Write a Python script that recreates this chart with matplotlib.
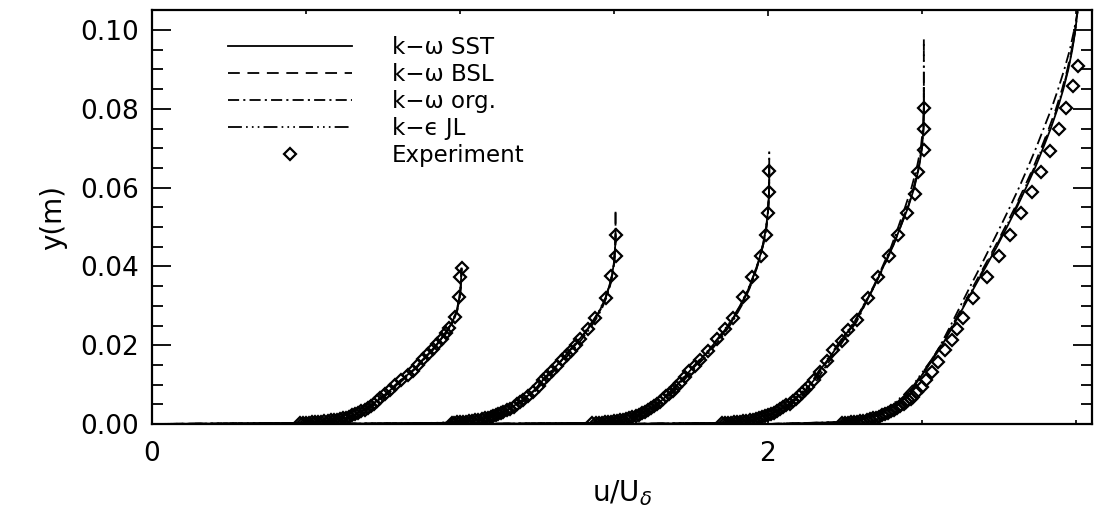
import matplotlib
matplotlib.use("Agg")
import matplotlib.pyplot as plt
from matplotlib.ticker import MultipleLocator, FixedLocator, FormatStrFormatter
from matplotlib.lines import Line2D

plt.rcParams['font.family'] = ['DejaVu Sans']
plt.rcParams['mathtext.fontset'] = 'dejavusans'
plt.rcParams['lines.scale_dashes'] = False

# velocity profiles, each station shifted by 0.5 in u/U_delta
# station 1
y_p1 = [0.0, 0.0003, 0.0008, 0.0015, 0.0025, 0.004, 0.006, 0.0085, 0.011, 0.014, 0.017, 0.020, 0.023, 0.026, 0.029, 0.032, 0.035, 0.0375, 0.0395]
sst_p1 = [0.0, 0.50, 0.57, 0.625, 0.66, 0.698, 0.733, 0.772, 0.807, 0.852, 0.888, 0.922, 0.952, 0.976, 0.990, 0.998, 1.002, 1.004, 1.005]
bsl_p1 = [0.0, 0.50, 0.57, 0.627, 0.663, 0.701, 0.736, 0.775, 0.810, 0.855, 0.890, 0.924, 0.953, 0.977, 0.991, 0.999, 1.003, 1.004, 1.005]
org_p1 = [0.0, 0.52, 0.59, 0.635, 0.67, 0.706, 0.740, 0.778, 0.812, 0.856, 0.892, 0.926, 0.955, 0.978, 0.992, 0.999, 1.003, 1.004, 1.005]
jl_p1 = [0.0, 0.48, 0.56, 0.618, 0.655, 0.694, 0.730, 0.770, 0.805, 0.850, 0.887, 0.921, 0.951, 0.975, 0.990, 0.998, 1.002, 1.004, 1.005]
exp_u_p1 = [0.48, 0.49, 0.50, 0.51, 0.52, 0.53, 0.54, 0.55, 0.56, 0.57, 0.58, 0.59, 0.60, 0.61, 0.62, 0.63, 0.64, 0.65, 0.66, 0.67, 0.68, 0.69, 0.70, 0.71, 0.72, 0.73, 0.74, 0.757, 0.773, 0.79, 0.81, 0.83, 0.848, 0.865, 0.881, 0.897, 0.911, 0.925, 0.94, 0.953, 0.965, 0.984, 0.998, 1.0, 1.005]
exp_y_p1 = [0.0002, 0.0002, 0.0003, 0.0003, 0.0004, 0.0004, 0.0005, 0.0006, 0.0007, 0.0008, 0.0009, 0.0010, 0.0011, 0.0012, 0.0014, 0.0016, 0.0019, 0.0022, 0.0025, 0.0028, 0.0032, 0.0036, 0.0041, 0.0046, 0.0052, 0.0058, 0.0065, 0.0075, 0.0086, 0.0099, 0.0112, 0.0124, 0.0135, 0.0150, 0.0164, 0.0178, 0.0190, 0.0204, 0.0217, 0.0230, 0.0243, 0.0271, 0.0323, 0.0374, 0.0395]

# station 2
y_p2 = [0.0, 0.0003, 0.0008, 0.0015, 0.0025, 0.004, 0.006, 0.0085, 0.011, 0.014, 0.017, 0.020, 0.023, 0.026, 0.029, 0.032, 0.035, 0.038, 0.041, 0.044, 0.047, 0.049]
sst_p2 = [0.5, 0.95, 1.04, 1.085, 1.12, 1.162, 1.203, 1.240, 1.268, 1.305, 1.338, 1.372, 1.403, 1.432, 1.455, 1.472, 1.485, 1.494, 1.500, 1.503, 1.505, 1.505]
bsl_p2 = [0.5, 0.95, 1.04, 1.087, 1.123, 1.165, 1.205, 1.242, 1.270, 1.307, 1.340, 1.374, 1.405, 1.433, 1.456, 1.473, 1.486, 1.495, 1.500, 1.503, 1.505, 1.505]
org_p2 = [0.5, 0.97, 1.05, 1.095, 1.13, 1.170, 1.210, 1.246, 1.275, 1.312, 1.346, 1.380, 1.410, 1.437, 1.459, 1.475, 1.487, 1.496, 1.501, 1.504, 1.505, 1.505]
jl_p2 = [0.5, 0.93, 1.03, 1.078, 1.115, 1.158, 1.200, 1.238, 1.266, 1.303, 1.336, 1.370, 1.401, 1.430, 1.454, 1.471, 1.485, 1.494, 1.500, 1.503, 1.505, 1.505]
exp_u_p2 = [0.973, 0.982, 0.99, 1.00, 1.01, 1.02, 1.03, 1.04, 1.05, 1.06, 1.07, 1.08, 1.09, 1.10, 1.108, 1.117, 1.125, 1.133, 1.14, 1.151, 1.162, 1.174, 1.185, 1.195, 1.205, 1.222, 1.238, 1.255, 1.270, 1.284, 1.298, 1.314, 1.330, 1.346, 1.362, 1.376, 1.390, 1.416, 1.438, 1.474, 1.489, 1.505, 1.505]
exp_y_p2 = [0.0003, 0.0003, 0.0004, 0.0004, 0.0005, 0.0006, 0.0007, 0.0008, 0.0009, 0.0010, 0.0012, 0.0014, 0.0016, 0.0018, 0.0021, 0.0023, 0.0026, 0.0028, 0.0031, 0.0035, 0.0039, 0.0044, 0.0050, 0.0055, 0.0061, 0.0071, 0.0082, 0.0097, 0.0112, 0.0123, 0.0135, 0.0148, 0.0162, 0.0174, 0.0186, 0.0200, 0.0215, 0.0240, 0.0268, 0.0321, 0.0376, 0.0427, 0.0481]

# station 3
y_p3 = [0.0, 0.0003, 0.0008, 0.0015, 0.0025, 0.004, 0.006, 0.0085, 0.011, 0.014, 0.018, 0.022, 0.026, 0.030, 0.034, 0.038, 0.042, 0.046, 0.050, 0.054, 0.058, 0.062, 0.065]
sst_p3 = [1.0, 1.45, 1.51, 1.55, 1.585, 1.620, 1.655, 1.690, 1.718, 1.752, 1.800, 1.842, 1.880, 1.910, 1.935, 1.955, 1.972, 1.985, 1.994, 2.000, 2.003, 2.004, 2.004]
bsl_p3 = [1.0, 1.45, 1.51, 1.553, 1.588, 1.623, 1.658, 1.693, 1.721, 1.755, 1.803, 1.845, 1.882, 1.912, 1.937, 1.957, 1.973, 1.986, 1.995, 2.000, 2.003, 2.004, 2.004]
org_p3 = [1.0, 1.47, 1.53, 1.563, 1.596, 1.630, 1.664, 1.698, 1.726, 1.760, 1.808, 1.849, 1.885, 1.914, 1.938, 1.957, 1.973, 1.986, 1.995, 2.000, 2.003, 2.004, 2.004]
jl_p3 = [1.0, 1.43, 1.50, 1.545, 1.580, 1.616, 1.651, 1.686, 1.715, 1.750, 1.798, 1.840, 1.878, 1.909, 1.934, 1.955, 1.972, 1.985, 1.994, 2.000, 2.003, 2.004, 2.004]
exp_u_p3 = [1.43, 1.44, 1.45, 1.46, 1.47, 1.48, 1.49, 1.50, 1.51, 1.52, 1.53, 1.54, 1.55, 1.56, 1.57, 1.58, 1.59, 1.60, 1.61, 1.62, 1.63, 1.64, 1.65, 1.66, 1.67, 1.68, 1.69, 1.70, 1.714, 1.73, 1.745, 1.762, 1.78, 1.805, 1.835, 1.86, 1.885, 1.92, 1.947, 1.977, 1.995, 2.001, 2.004, 2.004]
exp_y_p3 = [0.0002, 0.0002, 0.0003, 0.0003, 0.0004, 0.0005, 0.0006, 0.0007, 0.0008, 0.0009, 0.0011, 0.0013, 0.0015, 0.0017, 0.0020, 0.0023, 0.0027, 0.0031, 0.0035, 0.0040, 0.0045, 0.0051, 0.0057, 0.0063, 0.0070, 0.0077, 0.0085, 0.0094, 0.0105, 0.0120, 0.0135, 0.0148, 0.0162, 0.0186, 0.0215, 0.0240, 0.0268, 0.0322, 0.0374, 0.0426, 0.0480, 0.0535, 0.0588, 0.0643]

# station 4
y_p4 = [0.0, 0.0003, 0.0008, 0.0015, 0.0025, 0.004, 0.006, 0.0085, 0.011, 0.014, 0.018, 0.022, 0.026, 0.030, 0.035, 0.040, 0.045, 0.050, 0.055, 0.060, 0.065, 0.070, 0.075, 0.080, 0.0853]
sst_p4 = [1.5, 1.87, 1.93, 1.97, 2.005, 2.045, 2.085, 2.120, 2.148, 2.172, 2.210, 2.245, 2.283, 2.310, 2.345, 2.375, 2.405, 2.430, 2.455, 2.475, 2.490, 2.500, 2.505, 2.506, 2.506]
bsl_p4 = [1.5, 1.87, 1.93, 1.973, 2.008, 2.048, 2.088, 2.123, 2.151, 2.175, 2.213, 2.248, 2.285, 2.312, 2.346, 2.376, 2.405, 2.430, 2.454, 2.474, 2.489, 2.499, 2.505, 2.506, 2.506]
org_p4 = [1.5, 1.89, 1.95, 1.983, 2.016, 2.055, 2.095, 2.130, 2.158, 2.182, 2.218, 2.252, 2.288, 2.313, 2.345, 2.372, 2.400, 2.423, 2.445, 2.466, 2.483, 2.496, 2.503, 2.506, 2.506]
jl_p4 = [1.5, 1.85, 1.92, 1.962, 1.998, 2.040, 2.080, 2.116, 2.145, 2.169, 2.207, 2.243, 2.281, 2.309, 2.343, 2.374, 2.403, 2.428, 2.452, 2.473, 2.488, 2.499, 2.505, 2.506, 2.506]
exp_u_p4 = [1.85, 1.86, 1.87, 1.88, 1.89, 1.90, 1.91, 1.92, 1.93, 1.94, 1.95, 1.96, 1.97, 1.98, 1.99, 2.00, 2.01, 2.02, 2.03, 2.04, 2.05, 2.06, 2.07, 2.08, 2.09, 2.10, 2.11, 2.12, 2.13, 2.15, 2.169, 2.190, 2.212, 2.239, 2.261, 2.288, 2.326, 2.358, 2.394, 2.423, 2.452, 2.477, 2.488, 2.506, 2.506, 2.506]
exp_y_p4 = [0.0002, 0.0002, 0.0003, 0.0003, 0.0004, 0.0005, 0.0006, 0.0007, 0.0008, 0.0009, 0.0011, 0.0013, 0.0015, 0.0017, 0.0020, 0.0023, 0.0026, 0.0029, 0.0033, 0.0037, 0.0042, 0.0047, 0.0052, 0.0058, 0.0064, 0.0071, 0.0078, 0.0086, 0.0094, 0.0112, 0.0133, 0.0161, 0.0188, 0.0211, 0.0239, 0.0264, 0.0320, 0.0372, 0.0426, 0.0480, 0.0535, 0.0585, 0.0640, 0.0695, 0.0748, 0.0803]

# station 5
y_p5 = [0.0, 0.0005, 0.0015, 0.003, 0.005, 0.0075, 0.010, 0.013, 0.016, 0.020, 0.025, 0.030, 0.035, 0.040, 0.045, 0.050, 0.055, 0.060, 0.065, 0.070, 0.075, 0.080, 0.085, 0.090, 0.095, 0.100, 0.1047]
sst_p5 = [2.0, 2.25, 2.31, 2.37, 2.415, 2.450, 2.478, 2.505, 2.532, 2.565, 2.602, 2.637, 2.672, 2.708, 2.743, 2.776, 2.808, 2.838, 2.867, 2.893, 2.918, 2.940, 2.959, 2.975, 2.988, 2.998, 3.005]
bsl_p5 = [2.0, 2.25, 2.31, 2.37, 2.413, 2.447, 2.475, 2.502, 2.529, 2.561, 2.598, 2.633, 2.667, 2.702, 2.737, 2.770, 2.802, 2.832, 2.861, 2.887, 2.912, 2.935, 2.955, 2.972, 2.986, 2.997, 3.005]
org_p5 = [2.0, 2.27, 2.33, 2.385, 2.425, 2.455, 2.481, 2.505, 2.530, 2.560, 2.593, 2.625, 2.657, 2.690, 2.722, 2.754, 2.785, 2.815, 2.843, 2.870, 2.895, 2.920, 2.942, 2.962, 2.980, 2.994, 3.005]
jl_p5 = [2.0, 2.23, 2.29, 2.36, 2.405, 2.442, 2.472, 2.500, 2.528, 2.562, 2.599, 2.635, 2.670, 2.705, 2.740, 2.773, 2.805, 2.835, 2.864, 2.890, 2.915, 2.938, 2.957, 2.974, 2.987, 2.998, 3.005]
exp_u_p5 = [2.24, 2.25, 2.26, 2.27, 2.28, 2.29, 2.30, 2.31, 2.32, 2.33, 2.34, 2.35, 2.36, 2.37, 2.38, 2.39, 2.40, 2.41, 2.42, 2.43, 2.44, 2.448, 2.455, 2.463, 2.472, 2.485, 2.499, 2.513, 2.531, 2.553, 2.575, 2.596, 2.615, 2.634, 2.666, 2.710, 2.750, 2.786, 2.820, 2.856, 2.886, 2.916, 2.946, 2.969, 2.989, 3.005]
exp_y_p5 = [0.0002, 0.0002, 0.0003, 0.0004, 0.0005, 0.0006, 0.0007, 0.0008, 0.0010, 0.0012, 0.0014, 0.0016, 0.0019, 0.0022, 0.0025, 0.0028, 0.0032, 0.0036, 0.0040, 0.0045, 0.0050, 0.0055, 0.0060, 0.0064, 0.0068, 0.0082, 0.0095, 0.0112, 0.0133, 0.0158, 0.0188, 0.0213, 0.0240, 0.0268, 0.0321, 0.0372, 0.0426, 0.0480, 0.0535, 0.0588, 0.0640, 0.0694, 0.0748, 0.0803, 0.0857, 0.0910]

# edge height reached by the dashed models above the last grid point
tip_y = [0.0395, 0.054, 0.0697, 0.0976, 0.1047]

models = ["k\u2212\u03c9 SST", "k\u2212\u03c9 BSL", "k\u2212\u03c9 org.", "k\u2212\u03f5 JL"]
styles = ["-", (0, (8.5, 5.5)), (0, (8, 3, 1.5, 3)), (0, (10, 3, 1.2, 3, 1.2, 3, 1.2, 3))]

stations = [
    (y_p1, [sst_p1, bsl_p1, org_p1, jl_p1], exp_u_p1, exp_y_p1),
    (y_p2, [sst_p2, bsl_p2, org_p2, jl_p2], exp_u_p2, exp_y_p2),
    (y_p3, [sst_p3, bsl_p3, org_p3, jl_p3], exp_u_p3, exp_y_p3),
    (y_p4, [sst_p4, bsl_p4, org_p4, jl_p4], exp_u_p4, exp_y_p4),
    (y_p5, [sst_p5, bsl_p5, org_p5, jl_p5], exp_u_p5, exp_y_p5),
]

fig = plt.figure(figsize=(10.98, 5.20), dpi=100)
ax = fig.add_axes([152 / 1098, 96 / 520, 940 / 1098, 414 / 520])

lw = 1.3
mk = dict(linestyle="none", marker="D", ms=6.5, mfc="none", mec="black", mew=1.6)
for k, (yy, curves, eu, ey) in enumerate(stations):
    for m, (xx, ls) in enumerate(zip(curves, styles)):
        xs, ys = list(xx), list(yy)
        if m >= 2 and tip_y[k] > ys[-1]:
            xs.append(xs[-1])
            ys.append(tip_y[k])
        ax.plot(xs, ys, color="black", lw=lw, linestyle=ls)
    ax.plot(eu, ey, **mk)

ax.set_xlim(0, 3.052)
ax.set_ylim(0, 0.1051)

ax.xaxis.set_major_locator(FixedLocator([0, 2]))
ax.xaxis.set_minor_locator(MultipleLocator(0.5))
ax.yaxis.set_major_locator(MultipleLocator(0.02))
ax.yaxis.set_minor_locator(MultipleLocator(0.005))
ax.yaxis.set_major_formatter(FormatStrFormatter("%.2f"))

ax.tick_params(axis="both", which="both", direction="in", top=True, right=True,
               color="black", labelsize=19)
ax.tick_params(axis="y", which="major", length=14, width=1.3, pad=9)
ax.tick_params(axis="y", which="minor", length=8, width=1.3)
ax.tick_params(axis="x", which="major", length=4, width=1.2, pad=12)
ax.tick_params(axis="x", which="minor", length=3, width=1.2)
for sp in ax.spines.values():
    sp.set_linewidth(1.6)

ax.set_xlabel("u/U$_\\delta$", fontsize=20, labelpad=8)
ax.set_ylabel("y(m)", fontsize=20, labelpad=10)

handles = [Line2D([], [], color="black", lw=lw, linestyle=ls) for ls in styles]
handles.append(Line2D([], [], **mk))
ax.legend(handles, models + ["Experiment"], loc="upper left",
          bbox_to_anchor=(0.081, 0.937), frameon=False, fontsize=16.5,
          handlelength=5.4, handletextpad=1.75, labelspacing=0.17,
          borderpad=0, borderaxespad=0, numpoints=1)

fig.savefig("out.png", dpi=100)
